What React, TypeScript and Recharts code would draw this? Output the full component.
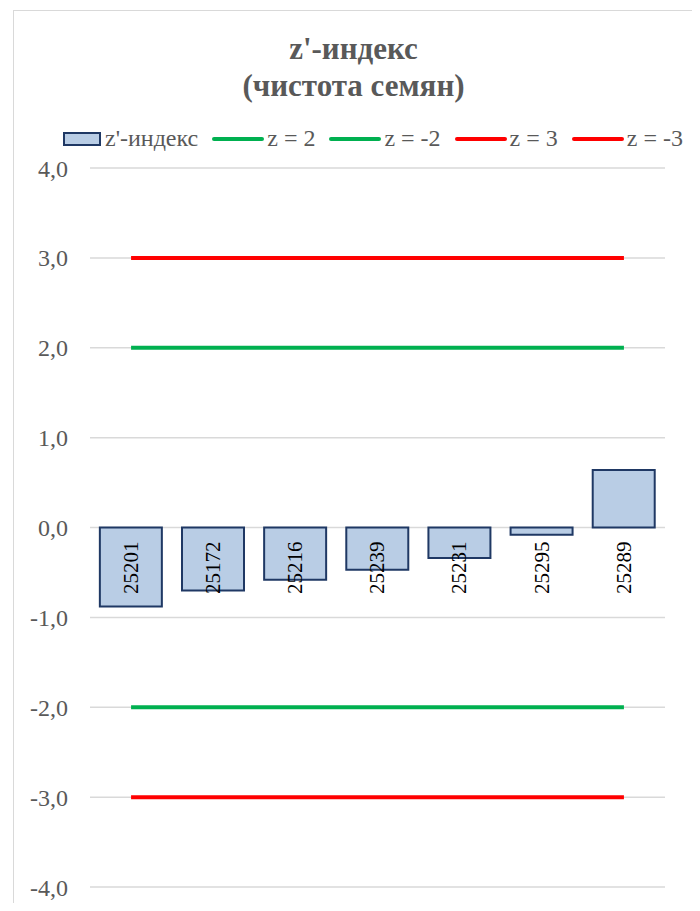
import React from 'react';
import {
  ComposedChart,
  Bar,
  Line,
  XAxis,
  YAxis,
  CartesianGrid,
  LabelList,
} from 'recharts';

// sample ids and their z'-index (seed purity)
const samples = ['25201', '25172', '25216', '25239', '25231', '25295', '25289'];
const zIndex = [-0.88, -0.7, -0.58, -0.47, -0.34, -0.08, 0.64];
const zPlus2 = [2, 2, 2, 2, 2, 2, 2];
const zMinus2 = [-2, -2, -2, -2, -2, -2, -2];
const zPlus3 = [3, 3, 3, 3, 3, 3, 3];
const zMinus3 = [-3, -3, -3, -3, -3, -3, -3];
const yTicks = [-4, -3, -2, -1, 0, 1, 2, 3, 4];

const chartData = samples.map((name, i) => ({
  name,
  z: zIndex[i],
  p2: zPlus2[i],
  m2: zMinus2[i],
  p3: zPlus3[i],
  m3: zMinus3[i],
}));

const FONT = 'Liberation Serif';
const GRAY = '#595959';
const BAR_FILL = '#B9CDE5';
const BAR_STROKE = '#1F3864';
const GREEN = '#00B050';
const RED = '#FF0000';

const legendItems = [
  { label: "z'-индекс", type: 'bar', color: BAR_FILL },
  { label: 'z = 2', type: 'line', color: GREEN },
  { label: 'z = -2', type: 'line', color: GREEN },
  { label: 'z = 3', type: 'line', color: RED },
  { label: 'z = -3', type: 'line', color: RED },
];

// sample id written vertically just under the zero line
const renderIdLabel = (props: any) => {
  const { x, y, width, height, index } = props;
  const cx = x + width / 2;
  const zeroY = y + height;
  const ty = zeroY + 14;
  return (
    <text
      x={cx}
      y={ty}
      transform={`rotate(-90, ${cx}, ${ty})`}
      textAnchor="end"
      dominantBaseline="central"
      fontFamily={FONT}
      fontSize={21}
      fill="#000"
    >
      {samples[index]}
    </text>
  );
};

export default function App() {
  return (
    <div style={{ position: 'relative', width: 700, height: 911, margin: -8, background: '#fff' }}>
      {/* Title */}
      <div
        style={{
          paddingTop: 30,
          marginLeft: 13,
          width: 681,
          textAlign: 'center',
          fontFamily: FONT,
          fontWeight: 'bold',
          fontSize: 31,
          lineHeight: '37px',
          color: GRAY,
        }}
      >
        z'-индекс
        <br />
        (чистота семян)
      </div>

      {/* chart frame */}
      <div
        style={{
          position: 'absolute',
          left: 13,
          top: 10,
          width: 680,
          height: 910,
          borderTop: '1.5px solid #D9D9D9',
          borderLeft: '1.5px solid #D9D9D9',
          borderRight: '1.5px solid #D9D9D9',
        }}
      />

      {/* Legend */}
      <div
        style={{
          position: 'absolute',
          left: 63,
          top: 125,
          display: 'flex',
          alignItems: 'center',
          fontFamily: FONT,
          fontSize: 24,
          color: GRAY,
          whiteSpace: 'nowrap',
        }}
      >
        {legendItems.map((item, i) => (
          <div
            key={item.label}
            style={{ display: 'flex', alignItems: 'center', marginLeft: i === 0 ? 0 : 14 }}
          >
            {item.type === 'bar' ? (
              <span
                style={{
                  display: 'inline-block',
                  width: 34,
                  height: 10,
                  background: item.color,
                  border: `2px solid ${BAR_STROKE}`,
                  marginRight: 4,
                }}
              />
            ) : (
              <span
                style={{
                  display: 'inline-block',
                  width: 52,
                  height: 4,
                  borderRadius: 2,
                  background: item.color,
                  marginRight: 3,
                }}
              />
            )}
            <span>{item.label}</span>
          </div>
        ))}
      </div>

      <ComposedChart
        width={700}
        height={911}
        data={chartData}
        margin={{ top: 168, right: 35, bottom: 24, left: 0 }}
        barCategoryGap="12%"
        style={{ position: 'absolute', left: 0, top: 0 }}
      >
        <CartesianGrid vertical={false} stroke="#D9D9D9" strokeWidth={1.5} />
        <XAxis dataKey="name" hide />
        <YAxis
          width={90}
          domain={[-4, 4]}
          ticks={yTicks}
          interval={0}
          axisLine={false}
          tickLine={false}
          tickMargin={16}
          tickFormatter={(v: number) => v.toFixed(1).replace('.', ',')}
          tick={{ fontFamily: FONT, fontSize: 24, fill: GRAY }}
        />
        <Bar
          dataKey="z"
          fill={BAR_FILL}
          stroke={BAR_STROKE}
          strokeWidth={2}
          isAnimationActive={false}
        >
          <LabelList dataKey="name" content={renderIdLabel} />
        </Bar>
        <Line dataKey="p2" stroke={GREEN} strokeWidth={4} dot={false} isAnimationActive={false} />
        <Line dataKey="m2" stroke={GREEN} strokeWidth={4} dot={false} isAnimationActive={false} />
        <Line dataKey="p3" stroke={RED} strokeWidth={4} dot={false} isAnimationActive={false} />
        <Line dataKey="m3" stroke={RED} strokeWidth={4} dot={false} isAnimationActive={false} />
      </ComposedChart>
    </div>
  );
}
